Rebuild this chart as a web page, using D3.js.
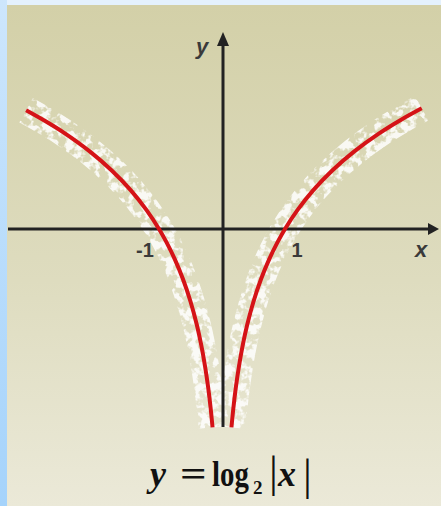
<!DOCTYPE html>
<html>
<head>
<meta charset="utf-8">
<script src="https://cdn.jsdelivr.net/npm/d3@7"></script>
<style>
html,body{margin:0;padding:0;background:#fff;}
svg{display:block;}
</style>
</head>
<body>
<svg id="chart" width="441" height="506"></svg>
<script>
// ---- data ----
const leftX  = [-3.11, -2.8, -2.5, -2.1, -1.75, -1.45, -1.2, -1, -0.88, -0.75, -0.62, -0.5, -0.4, -0.33, -0.27, -0.22, -0.18, -0.15];
const leftY  = [1.637, 1.485, 1.322, 1.070, 0.807, 0.536, 0.263, 0, -0.184, -0.415, -0.690, -1, -1.322, -1.599, -1.889, -2.184, -2.474, -2.737];
const rightX = [0.15, 0.18, 0.22, 0.27, 0.33, 0.4, 0.5, 0.62, 0.75, 0.88, 1, 1.2, 1.45, 1.75, 2.1, 2.5, 2.85, 3.17];
const rightY = [-2.737, -2.474, -2.184, -1.889, -1.599, -1.322, -1, -0.690, -0.415, -0.184, 0, 0.263, 0.536, 0.807, 1.070, 1.322, 1.511, 1.665];
const tickValues = [-1, 1];
const tickLabels = ["-1", "1"];
const axisNames = ["x", "y"];
const formulaParts = ["y", "=", "log", "2", "|", "x", "|"];

const svg = d3.select("#chart");
const W = 441, H = 506;

// scales: x unit ~63px centred at 222, y unit ~72.5px with 0 at 229
const x = d3.scaleLinear().domain([-1, 1]).range([159, 285]);
const y = d3.scaleLinear().domain([0, 1]).range([229, 156.5]);

// ---- background ----
const defs = svg.append("defs");
const bg = defs.append("linearGradient").attr("id", "bg").attr("x1", 0).attr("y1", 0).attr("x2", 0).attr("y2", 1);
bg.append("stop").attr("offset", "0").attr("stop-color", "#d3d0a8");
bg.append("stop").attr("offset", "0.55").attr("stop-color", "#dedcbf");
bg.append("stop").attr("offset", "1").attr("stop-color", "#ebe9d8");
const side = defs.append("linearGradient").attr("id", "side").attr("x1", 0).attr("y1", 0).attr("x2", 0).attr("y2", 1);
side.append("stop").attr("offset", "0").attr("stop-color", "#cde6fc");
side.append("stop").attr("offset", "1").attr("stop-color", "#a5d3fb");

const f = defs.append("filter").attr("id", "noise").attr("x", "-20%").attr("y", "-20%").attr("width", "140%").attr("height", "140%");
f.append("feTurbulence").attr("type", "fractalNoise").attr("baseFrequency", "0.12").attr("numOctaves", 3).attr("seed", 5).attr("result", "t");
f.append("feColorMatrix").attr("in", "t").attr("type", "matrix")
  .attr("values", "0 0 0 0 1  0 0 0 0 1  0 0 0 0 1  7 0 0 0 -3.1").attr("result", "m");
f.append("feComposite").attr("in", "m").attr("in2", "SourceGraphic").attr("operator", "in");

svg.append("rect").attr("width", W).attr("height", H).attr("fill", "#e4f1fd");
svg.append("rect").attr("x", 0).attr("y", 0).attr("width", 7).attr("height", H).attr("fill", "url(#side)");
svg.append("rect").attr("x", 7).attr("y", 5).attr("width", W - 7).attr("height", H - 5).attr("fill", "url(#bg)");

// ---- curve data ----
const left = leftX.map((d, i) => [d, leftY[i]]);
const right = rightX.map((d, i) => [d, rightY[i]]);
const line = d3.line().x(d => x(d[0])).y(d => y(d[1])).curve(d3.curveCatmullRom.alpha(0.5));

// whitish noisy halo around curve
const halo = svg.append("g").attr("filter", "url(#noise)").attr("opacity", 0.85);
[left, right].forEach(b => {
  halo.append("path").attr("d", line(b)).attr("fill", "none")
    .attr("stroke", "#fff").attr("stroke-width", 28).attr("stroke-linecap", "butt");
});

// ---- axes ----
const axisColor = "#222";
const x0 = x(0), y0 = y(0);
svg.append("line").attr("x1", 8).attr("y1", y0).attr("x2", 430).attr("y2", y0)
  .attr("stroke", axisColor).attr("stroke-width", 3);
svg.append("path").attr("d", `M439,${y0} L428,${y0 - 6} L428,${y0 + 6} Z`).attr("fill", axisColor);
svg.append("line").attr("x1", x0 + 1).attr("y1", 427).attr("x2", x0 + 1).attr("y2", 44)
  .attr("stroke", axisColor).attr("stroke-width", 3);
svg.append("path").attr("d", `M${x0 + 1},32 L${x0 - 5},46 L${x0 + 7},46 Z`).attr("fill", axisColor);

// ---- curve ----
[left, right].forEach(b => {
  svg.append("path").attr("d", line(b)).attr("fill", "none")
    .attr("stroke", "#d51317").attr("stroke-width", 4).attr("stroke-linejoin", "round");
});

// ---- tick labels ----
const lab = svg.append("g").attr("font-family", "Liberation Sans, Arial, sans-serif")
  .attr("font-weight", "bold").attr("fill", "#3a3a3a").attr("font-size", 20);
tickValues.forEach((v, i) => {
  lab.append("text").attr("x", x(v) + (v < 0 ? -14 : 12)).attr("y", 257)
    .attr("text-anchor", "middle").text(tickLabels[i]);
});
lab.append("text").attr("x", 421).attr("y", 257).attr("text-anchor", "middle")
  .attr("font-style", "italic").attr("font-size", 22).text(axisNames[0]);
lab.append("text").attr("x", 202).attr("y", 54).attr("text-anchor", "middle")
  .attr("font-style", "italic").attr("font-size", 22).text(axisNames[1]);

// ---- formula ----
const fm = svg.append("g").attr("font-family", "Liberation Serif, Times New Roman, serif")
  .attr("font-weight", "bold").attr("fill", "#111");
fm.append("text").attr("x", 150).attr("y", 486).attr("font-size", 36).attr("font-style", "italic").text(formulaParts[0]);
fm.append("text").attr("transform", "translate(180,486) scale(1.3,1)").attr("font-size", 36).text(formulaParts[1]);
fm.append("text").attr("transform", "translate(212,486) scale(0.8,1)").attr("font-size", 36).text(formulaParts[2]);
fm.append("text").attr("x", 253).attr("y", 494).attr("font-size", 19).text(formulaParts[3]);
fm.append("text").attr("x", 269).attr("y", 487).attr("font-size", 44).attr("font-weight", "normal").text(formulaParts[4]);
fm.append("text").attr("x", 278).attr("y", 486).attr("font-size", 36).attr("font-style", "italic").text(formulaParts[5]);
fm.append("text").attr("x", 303).attr("y", 490).attr("font-size", 44).attr("font-weight", "normal").text(formulaParts[6]);
</script>
</body>
</html>
